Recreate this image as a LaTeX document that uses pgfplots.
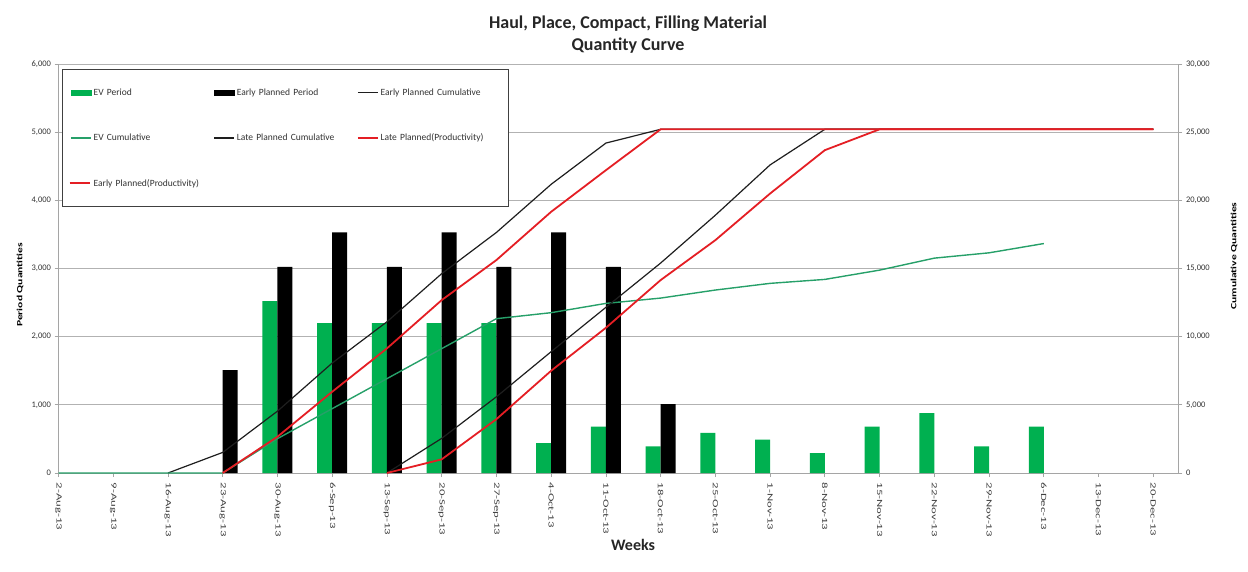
\documentclass[border=0pt]{standalone}
\usepackage{fontspec}
\setmainfont{Carlito}
\usepackage{pgfplots}
\pgfplotsset{compat=1.18}

\definecolor{evgreen}{RGB}{0,176,80}
\definecolor{evline}{RGB}{38,160,105}
\definecolor{planred}{RGB}{228,30,36}
\definecolor{planblack}{RGB}{30,30,30}
\definecolor{axgray}{RGB}{165,165,165}

\pgfplotsset{
  chartbase/.style={
    scale only axis, width=1120pt, height=409pt,
    at={(58.5pt,98pt)}, anchor=south west,
    xmin=0, xmax=20.46, ymin=0,
    /pgf/number format/assume math mode=true,
    /pgf/number format/1000 sep={,},
    scaled y ticks=false,
    y tick label style={font=\fontsize{8.5}{10}\selectfont, text=black!80},
    axis line style={axgray, line width=0.8pt},
    tick style={axgray, line width=0.8pt},
    tick align=outside,
    major tick length=4pt,
  },
  earlycum/.style={planblack, line width=1.2pt},
  latecum/.style={planblack, line width=1.2pt},
  evcum/.style={evline, line width=1.4pt},
  prodline/.style={planred, line width=1.8pt},
  % legend keys with their own fixed drawing
  greenkey/.style={legend image code/.code={\fill[evgreen] (0pt,-2.5pt) rectangle (20pt,2.5pt);}},
  blackkey/.style={legend image code/.code={\fill[black] (0pt,-2.5pt) rectangle (20pt,2.5pt);}},
  cumkey/.style={legend image code/.code={\draw[planblack, line width=1.2pt] (0pt,0pt) -- (20pt,0pt);}},
  evkey/.style={legend image code/.code={\draw[evline, line width=1.4pt] (0pt,0pt) -- (20pt,0pt);}},
  redkey/.style={legend image code/.code={\draw[planred, line width=1.8pt] (0pt,0pt) -- (20pt,0pt);}},
  % reserves the key's room and paints nothing
  blankkey/.style={legend image code/.code={%
    \pgfpathmoveto{\pgfpoint{0pt}{-2pt}}\pgfpathlineto{\pgfpoint{20pt}{2pt}}\pgfusepath{discard}}},
}
% red key drawn as a rule just left of its entry text
\newcommand{\redrule}{\llap{\textcolor{planred}{\rule[0.27em]{20pt}{1.8pt}}\hspace{4pt}}}

\begin{document}
\begin{tikzpicture}
\useasboundingbox (0,0) rectangle (1248pt,571pt);

% period quantities (left axis)
\begin{axis}[chartbase,
  ymax=6000, ytick={0,1000,...,6000},
  axis x line*=bottom, axis y line*=left,
  ymajorgrids, major grid style={axgray!85, line width=0.8pt},
  xtick={0,...,20},
  xticklabels={2-Aug-13,9-Aug-13,16-Aug-13,23-Aug-13,30-Aug-13,6-Sep-13,13-Sep-13,20-Sep-13,27-Sep-13,4-Oct-13,11-Oct-13,18-Oct-13,25-Oct-13,1-Nov-13,8-Nov-13,15-Nov-13,22-Nov-13,29-Nov-13,6-Dec-13,13-Dec-13,20-Dec-13},
  x tick label style={font=\fontsize{8}{9}\selectfont, text=black!75, rotate=-90, anchor=west, xscale=1.6},
]
\addplot[ybar, bar width=15pt, bar shift=-7.5pt, fill=evgreen, draw=none] coordinates {
  (4,2520) (5,2200) (6,2200) (7,2200) (8,2200) (9,440) (10,680) (11,390)
  (12,590) (13,490) (14,290) (15,680) (16,880) (17,390) (18,680)};
\addplot[ybar, bar width=15pt, bar shift=7.5pt, fill=black, draw=none] coordinates {
  (3,1510) (4,3025) (5,3530) (6,3025) (7,3530) (8,3025) (9,3530) (10,3025) (11,1010)};
\end{axis}

% cumulative quantities (right axis)
\begin{axis}[chartbase,
  ymax=30000, ytick={0,5000,...,30000},
  axis x line=none, axis y line*=right,
  legend columns=3,
  legend style={at={(0.003,0.987)}, anchor=north west, draw=black!75, line width=0.8pt,
    font=\fontsize{9.5}{11}\selectfont, inner xsep=8pt, inner ysep=17pt, row sep=33pt,
    nodes={text width=118pt, inner sep=2pt, text=black!80}},
]
\addlegendimage{greenkey}
\addlegendentry{EV Period}
\addlegendimage{blackkey}
\addlegendentry{Early Planned Period}
\addlegendimage{cumkey}
\addlegendentry{Early Planned Cumulative}
\addlegendimage{evkey}
\addlegendentry{EV Cumulative}
\addlegendimage{cumkey}
\addlegendentry{Late Planned Cumulative}
\addlegendimage{redkey}
\addlegendentry{Late Planned(Productivity)}
\addlegendimage{blankkey}
\addlegendentry{\redrule Early Planned(Productivity)}

% Early Planned Cumulative
\addplot[earlycum, forget plot] coordinates {
  (2,0) (3,1510) (4,4535) (5,8065) (6,11090) (7,14620) (8,17645) (9,21175) (10,24200)
  (11,25210) (12,25210) (13,25210) (14,25210) (15,25210) (16,25210) (17,25210)
  (18,25210) (19,25210) (20,25210)};
% EV Cumulative
\addplot[evcum, forget plot] coordinates {
  (0,0) (1,0) (2,0) (3,0) (4,2520) (5,4720) (6,6920) (7,9120) (8,11320) (9,11760)
  (10,12440) (11,12830) (12,13420) (13,13910) (14,14200) (15,14880) (16,15760)
  (17,16150) (18,16830)};
% Late Planned Cumulative
\addplot[latecum, forget plot] coordinates {
  (6,0) (7,2540) (8,5590) (9,8900) (10,12150) (11,15400) (12,18910) (13,22600)
  (14,25210) (15,25210) (16,25210) (17,25210) (18,25210) (19,25210) (20,25210)};
% Late Planned (Productivity)
\addplot[prodline, forget plot] coordinates {
  (6,0) (7,1000) (8,3950) (9,7500) (10,10650) (11,14150) (12,17080) (13,20500)
  (14,23680) (15,25210) (16,25210) (17,25210) (18,25210) (19,25210) (20,25210)};
% Early Planned (Productivity)
\addplot[prodline, forget plot] coordinates {
  (3,0) (4,2660) (5,5960) (6,9140) (7,12680) (8,15620) (9,19160) (10,22210)
  (11,25210) (12,25210) (13,25210) (14,25210) (15,25210) (16,25210) (17,25210)
  (18,25210) (19,25210) (20,25210)};
\end{axis}

% titles and axis names
\node[font=\fontsize{18}{20}\selectfont\bfseries, text=black!85] at (628pt,547pt) {Haul, Place, Compact, Filling Material};
\node[font=\fontsize{18}{20}\selectfont\bfseries, text=black!85] at (628pt,525pt) {Quantity Curve};
\node[font=\fontsize{16}{18}\selectfont\bfseries, text=black!85] at (633pt,26pt) {Weeks};
\node[font=\fontsize{8}{9}\selectfont\bfseries, rotate=90, xscale=1.45] at (20pt,286pt) {Period Quantities};
\node[font=\fontsize{8}{9}\selectfont\bfseries, rotate=90, xscale=1.45] at (1234pt,315pt) {Cumulative Quantities};
\end{tikzpicture}
\end{document}
